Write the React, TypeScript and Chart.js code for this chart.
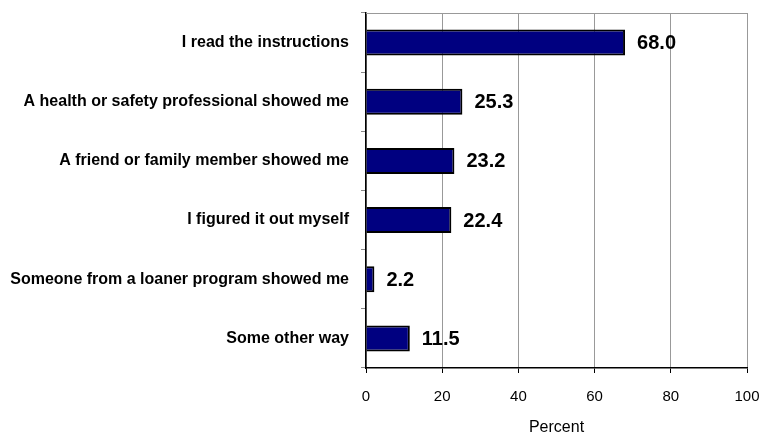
import React, { useEffect, useRef } from "react";
import { Chart, registerables } from "chart.js";

Chart.register(...registerables);

const categories = [
  "I read the instructions",
  "A health or safety professional showed me",
  "A friend or family member showed me",
  "I figured it out myself",
  "Someone from a loaner program showed me",
  "Some other way",
];
const percentValues = [68.0, 25.3, 23.2, 22.4, 2.2, 11.5];
const xTicks = [0, 20, 40, 60, 80, 100];
const xTitle = "Percent";

const FONT = "'Liberation Sans', Arial, sans-serif";

const valueLabels = {
  id: "valueLabels",
  afterDatasetsDraw(chart: any) {
    const ctx = chart.ctx;
    const meta = chart.getDatasetMeta(0);
    ctx.save();
    ctx.font = `bold 20px ${FONT}`;
    ctx.fillStyle = "#000";
    ctx.textAlign = "left";
    ctx.textBaseline = "middle";
    meta.data.forEach((bar: any, i: number) => {
      ctx.fillText(percentValues[i].toFixed(1), bar.x + 12, bar.y + 1);
    });
    ctx.restore();
  },
};

const frame = {
  id: "frame",
  beforeDatasetsDraw(chart: any) {
    const { ctx, chartArea } = chart;
    ctx.save();
    ctx.strokeStyle = "#999999";
    ctx.lineWidth = 1;
    ctx.beginPath();
    ctx.moveTo(chartArea.left, chartArea.top + 0.5);
    ctx.lineTo(chartArea.right, chartArea.top + 0.5);
    ctx.stroke();
    ctx.restore();
  },
};

export default function App() {
  const ref = useRef<HTMLCanvasElement>(null);
  useEffect(() => {
    document.body.style.margin = "0";
    const chart = new Chart(ref.current!, {
      type: "bar",
      data: {
        labels: categories,
        datasets: [
          {
            data: percentValues,
            backgroundColor: "#000080",
            borderColor: "#000000",
            borderWidth: 2,
            barPercentage: 0.44,
            categoryPercentage: 1,
          },
        ],
      },
      options: {
        indexAxis: "y",
        responsive: false,
        animation: false,
        layout: { padding: { top: 13, right: 15, left: 0, bottom: 0 } },
        plugins: { legend: { display: false }, tooltip: { enabled: false } },
        scales: {
          x: {
            min: 0,
            max: 100,
            afterBuildTicks: (s: any) => {
              s.ticks = xTicks.map((v) => ({ value: v }));
            },
            afterFit: (s: any) => {
              s.height = 65;
              s.paddingLeft = 0;
              s.paddingRight = 0;
            },
            grid: {
              color: "#999999",
              tickColor: "#000000",
              tickLength: 5,
              lineWidth: 1,
            },
            border: { color: "#000000", width: 1.5 },
            ticks: {
              color: "#000",
              font: { family: FONT, size: 15 },
              padding: 15,
              maxRotation: 0,
            },
            title: {
              display: true,
              text: xTitle,
              color: "#000",
              font: { family: FONT, size: 16, lineHeight: 1 },
              padding: { top: 0, bottom: -3 },
            },
          },
          y: {
            afterFit: (s: any) => {
              s.width = 366;
              s.paddingTop = 0;
              s.paddingBottom = 0;
            },
            grid: {
              drawOnChartArea: false,
              offset: true,
              tickColor: "#888888",
              tickLength: 5,
            },
            border: { color: "#000000", width: 1.5 },
            ticks: {
              color: "#000",
              font: { family: FONT, size: 16, weight: "bold" },
              padding: 12,
            },
          },
        },
      },
      plugins: [frame, valueLabels],
    });
    return () => chart.destroy();
  }, []);
  return <canvas ref={ref} width={762} height={433} style={{ display: "block" }} />;
}
